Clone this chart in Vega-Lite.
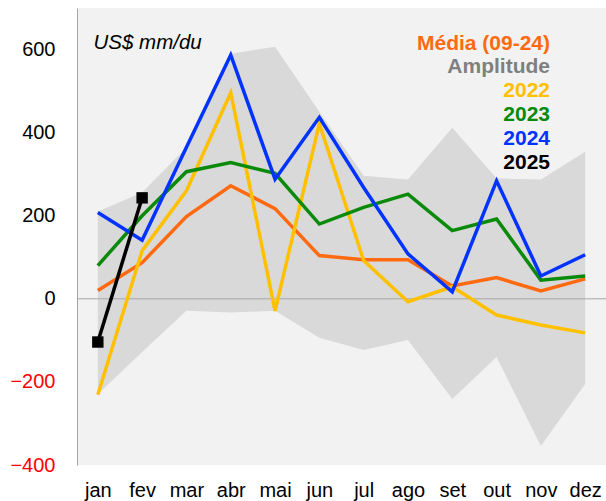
{
  "$schema": "https://vega.github.io/schema/vega-lite/v6.json",
  "width": 529,
  "height": 457,
  "autosize": "none",
  "padding": {"left": 77, "top": 8, "right": 0, "bottom": 36},
  "background": "white",
  "config": {
    "view": {"fill": "#f2f2f2", "stroke": null},
    "font": "Liberation Sans"
  },
  "datasets": {
    "amp": [
      {"month": "jan", "lo": -230, "hi": 210},
      {"month": "fev", "lo": -128, "hi": 256},
      {"month": "mar", "lo": -29, "hi": 364},
      {"month": "abr", "lo": -33, "hi": 590},
      {"month": "mai", "lo": -29, "hi": 607},
      {"month": "jun", "lo": -94, "hi": 450},
      {"month": "jul", "lo": -123, "hi": 296},
      {"month": "ago", "lo": -99, "hi": 287},
      {"month": "set", "lo": -241, "hi": 412},
      {"month": "out", "lo": -140, "hi": 290},
      {"month": "nov", "lo": -354, "hi": 287},
      {"month": "dez", "lo": -205, "hi": 354}
    ],
    "series": [
      {"month": "jan", "series": "Média (09-24)", "value": 20},
      {"month": "fev", "series": "Média (09-24)", "value": 87},
      {"month": "mar", "series": "Média (09-24)", "value": 198},
      {"month": "abr", "series": "Média (09-24)", "value": 272},
      {"month": "mai", "series": "Média (09-24)", "value": 217},
      {"month": "jun", "series": "Média (09-24)", "value": 104},
      {"month": "jul", "series": "Média (09-24)", "value": 94},
      {"month": "ago", "series": "Média (09-24)", "value": 94},
      {"month": "set", "series": "Média (09-24)", "value": 31},
      {"month": "out", "series": "Média (09-24)", "value": 51},
      {"month": "nov", "series": "Média (09-24)", "value": 19},
      {"month": "dez", "series": "Média (09-24)", "value": 48},
      {"month": "jan", "series": "2022", "value": -231},
      {"month": "fev", "series": "2022", "value": 116},
      {"month": "mar", "series": "2022", "value": 260},
      {"month": "abr", "series": "2022", "value": 496},
      {"month": "mai", "series": "2022", "value": -29},
      {"month": "jun", "series": "2022", "value": 422},
      {"month": "jul", "series": "2022", "value": 92},
      {"month": "ago", "series": "2022", "value": -7},
      {"month": "set", "series": "2022", "value": 29},
      {"month": "out", "series": "2022", "value": -39},
      {"month": "nov", "series": "2022", "value": -63},
      {"month": "dez", "series": "2022", "value": -82},
      {"month": "jan", "series": "2023", "value": 80},
      {"month": "fev", "series": "2023", "value": 200},
      {"month": "mar", "series": "2023", "value": 306},
      {"month": "abr", "series": "2023", "value": 328},
      {"month": "mai", "series": "2023", "value": 302},
      {"month": "jun", "series": "2023", "value": 180},
      {"month": "jul", "series": "2023", "value": 220},
      {"month": "ago", "series": "2023", "value": 252},
      {"month": "set", "series": "2023", "value": 164},
      {"month": "out", "series": "2023", "value": 192},
      {"month": "nov", "series": "2023", "value": 45},
      {"month": "dez", "series": "2023", "value": 55},
      {"month": "jan", "series": "2024", "value": 208},
      {"month": "fev", "series": "2024", "value": 141},
      {"month": "mar", "series": "2024", "value": 365},
      {"month": "abr", "series": "2024", "value": 587},
      {"month": "mai", "series": "2024", "value": 288},
      {"month": "jun", "series": "2024", "value": 437},
      {"month": "jul", "series": "2024", "value": 268},
      {"month": "ago", "series": "2024", "value": 108},
      {"month": "set", "series": "2024", "value": 17},
      {"month": "out", "series": "2024", "value": 284},
      {"month": "nov", "series": "2024", "value": 55},
      {"month": "dez", "series": "2024", "value": 106},
      {"month": "jan", "series": "2025", "value": -104},
      {"month": "fev", "series": "2025", "value": 243}
    ],
    "zero": [{"v": 0}]
  },
  "encoding": {
    "x": {
      "field": "month",
      "type": "ordinal",
      "sort": ["jan","fev","mar","abr","mai","jun","jul","ago","set","out","nov","dez"],
      "scale": {"type": "point", "padding": 0.47},
      "axis": {
        "title": null,
        "domain": false,
        "ticks": false,
        "labelAngle": 0,
        "labelFontSize": 20,
        "labelColor": "#000000",
        "labelPadding": 15
      }
    }
  },
  "layer": [
    {
      "data": {"name": "amp"},
      "mark": {"type": "area", "fill": "#d9d9d9", "opacity": 1},
      "encoding": {
        "y": {
          "field": "hi",
          "type": "quantitative",
          "scale": {"domain": [-400, 700], "nice": false, "zero": false},
          "axis": {
            "values": [-400, -200, 0, 200, 400, 600],
            "grid": false,
            "ticks": false,
            "domain": true,
            "domainColor": "#a6a6a6",
            "domainWidth": 1,
            "labelFontSize": 20,
            "labelPadding": 22,
            "labelColor": {"condition": {"test": "datum.value < 0", "value": "#ff0000"}, "value": "#000000"},
            "title": "US$ mm/du",
            "titleAngle": 0,
            "titleAlign": "left",
            "titleBaseline": "middle",
            "titleX": 16,
            "titleY": 34,
            "titleFontSize": 20.5,
            "titleFontStyle": "italic",
            "titleFontWeight": "normal",
            "titleColor": "#000000"
          }
        },
        "y2": {"field": "lo"}
      }
    },
    {
      "data": {"name": "zero"},
      "mark": {"type": "rule", "color": "#a6a6a6", "strokeWidth": 1},
      "encoding": {
        "x": null,
        "y": {"field": "v", "type": "quantitative"}
      }
    },
    {
      "data": {"name": "series"},
      "mark": {"type": "line", "strokeWidth": 3.5},
      "encoding": {
        "y": {"field": "value", "type": "quantitative"},
        "color": {
          "field": "series",
          "type": "nominal",
          "scale": {
            "domain": ["Média (09-24)", "Amplitude", "2022", "2023", "2024", "2025"],
            "range": ["#ff6a10", "#7f7f7f", "#ffc000", "#0a8a0a", "#0033ff", "#000000"]
          },
          "legend": {
            "title": null,
            "orient": "none",
            "legendX": 452,
            "legendY": 25,
            "symbolSize": 0,
            "symbolStrokeWidth": 0,
            "symbolOpacity": 0,
            "labelFontSize": 21,
            "labelFontWeight": "bold",
            "labelAlign": "right",
            "labelOffset": 0,
            "rowPadding": 1.8,
            "padding": 0,
            "labelLimit": 300,
            "encode": {
              "labels": {"update": {"fill": {"scale": "color", "field": "value"}}}
            }
          }
        }
      }
    },
    {
      "data": {"name": "series"},
      "transform": [{"filter": "datum.series == '2025'"}],
      "mark": {"type": "point", "shape": "square", "filled": true, "size": 130, "color": "#000000", "opacity": 1},
      "encoding": {
        "y": {"field": "value", "type": "quantitative"}
      }
    }
  ]
}
